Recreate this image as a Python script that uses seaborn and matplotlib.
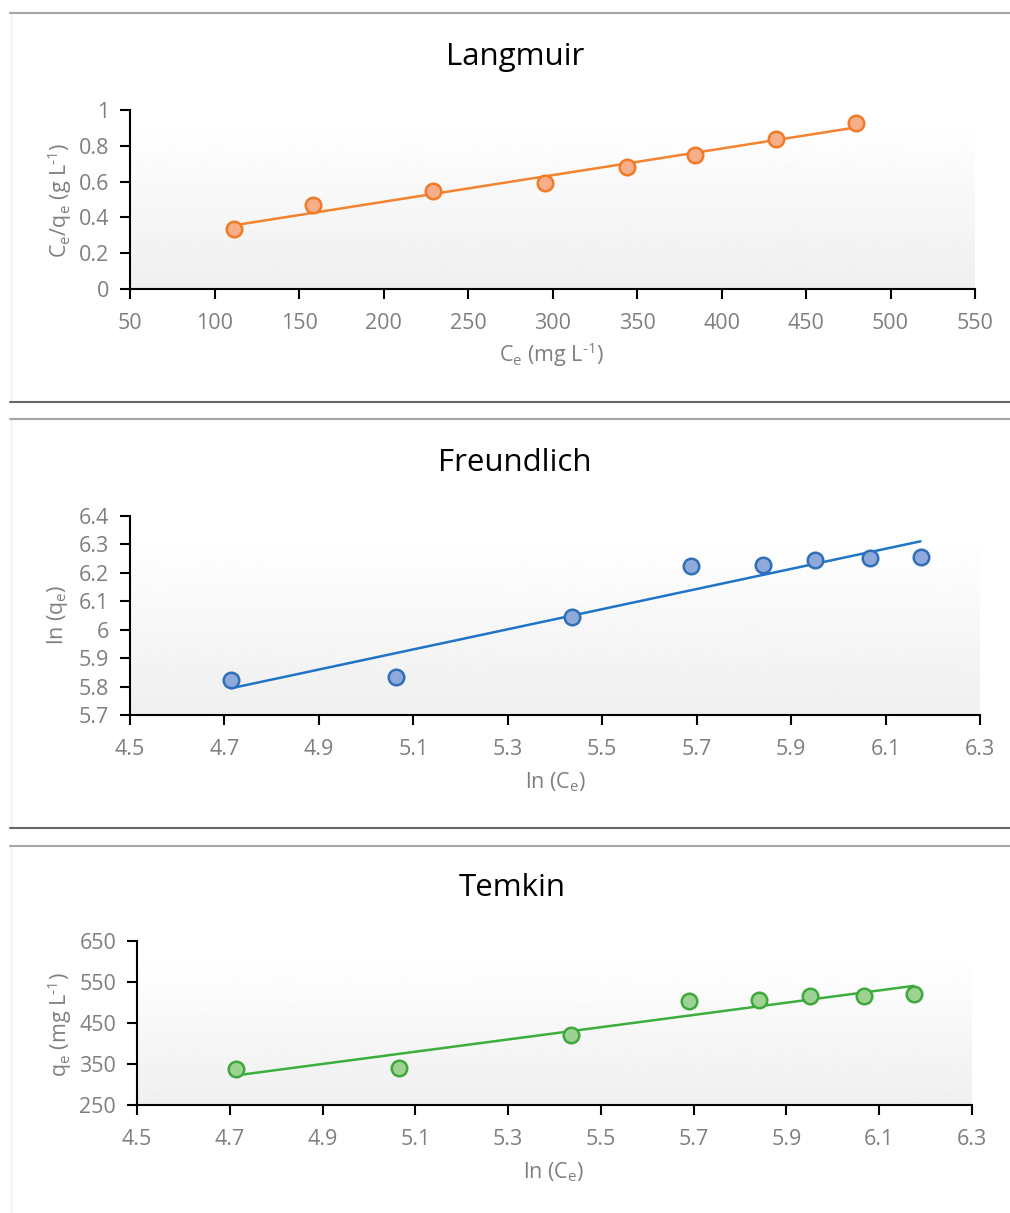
import numpy as np
import pandas as pd
import matplotlib
matplotlib.use("Agg")
import matplotlib.pyplot as plt
from matplotlib.lines import Line2D
import seaborn as sns

sns.set_theme(style="white")
plt.rcParams["font.family"] = ["Open Sans", "DejaVu Sans"]

# Isotherm data (equilibrium concentration and uptake)
ce = [111.5, 158.3, 229.3, 295.6, 344.1, 384.3, 432.2, 479.6]
ce_over_qe = [0.335, 0.469, 0.547, 0.592, 0.682, 0.749, 0.838, 0.927]
ln_ce = [4.714, 5.064, 5.435, 5.689, 5.841, 5.951, 6.068, 6.174]
ln_qe = [5.823, 5.834, 6.045, 6.225, 6.228, 6.246, 6.253, 6.256]
qe = [338, 340, 420, 503, 506, 515, 516, 520]

lang_xticks = [50, 100, 150, 200, 250, 300, 350, 400, 450, 500, 550]
lang_yticks = [0, 0.2, 0.4, 0.6, 0.8, 1]
freu_xticks = [4.5, 4.7, 4.9, 5.1, 5.3, 5.5, 5.7, 5.9, 6.1, 6.3]
freu_yticks = [5.7, 5.8, 5.9, 6.0, 6.1, 6.2, 6.3, 6.4]
temk_xticks = [4.5, 4.7, 4.9, 5.1, 5.3, 5.5, 5.7, 5.9, 6.1, 6.3]
temk_yticks = [250, 350, 450, 550, 650]

W, H = 1010, 1213
fig = plt.figure(figsize=(W / 100, H / 100), dpi=100)

TICK_COLOR = "#7f7f7f"
TICK_SIZE = 15.5


def px_axes(left, right, top, bottom):
    return fig.add_axes([left / W, 1 - bottom / H, (right - left) / W, (bottom - top) / H])


def style_axes(ax, xticks, yticks, fmt, grad_top=0.93):
    # soft vertical gradient inside the plot area
    grad = np.linspace(0.94, 1.0, 256).reshape(-1, 1)
    ax.imshow(grad, cmap="gray", vmin=0, vmax=1, aspect="auto",
              extent=[0, 1, 0, grad_top], transform=ax.transAxes,
              origin="lower", zorder=0)
    ax.set_xlim(xticks[0], xticks[-1])
    ax.set_ylim(yticks[0], yticks[-1])
    ax.set_xticks(xticks)
    ax.set_yticks(yticks)
    ax.set_xticklabels([fmt(v) for v in xticks])
    ax.set_yticklabels([fmt(v) for v in yticks])
    for s in ["top", "right"]:
        ax.spines[s].set_visible(False)
    for s in ["left", "bottom"]:
        ax.spines[s].set_color("black")
        ax.spines[s].set_linewidth(1.5)
    ax.tick_params(axis="both", which="both", direction="out", length=7, width=1.5,
                   color="black", labelcolor=TICK_COLOR, labelsize=TICK_SIZE,
                   bottom=True, left=True)
    ax.tick_params(axis="y", pad=8)
    ax.tick_params(axis="x", pad=10)
    ax.set_xlabel("")
    ax.set_ylabel("")
    ax.patch.set_alpha(0)


def gfmt(v):
    return f"{v:g}"


def draw_panel(ax, x, y, line_color, edge_color, face_color):
    df = pd.DataFrame({"x": x, "y": y})
    sns.regplot(data=df, x="x", y="y", ax=ax, scatter=False, ci=None, truncate=True,
                line_kws={"color": line_color, "lw": 1.8, "zorder": 2})
    sns.scatterplot(data=df, x="x", y="y", ax=ax, s=125, color=face_color,
                    edgecolor=edge_color, linewidth=1.8, zorder=3, legend=False)


# Langmuir
ax1 = px_axes(130, 975, 110, 289)
draw_panel(ax1, ce, ce_over_qe, "#F4822E", "#F07A26", "#F8AE88")
style_axes(ax1, lang_xticks, lang_yticks, gfmt, grad_top=0.95)

# Freundlich
ax2 = px_axes(130, 980, 516, 715)
draw_panel(ax2, ln_ce, ln_qe, "#1F74C6", "#2E6FB8", "#8FA9DA")
style_axes(ax2, freu_xticks, freu_yticks, gfmt, grad_top=0.91)

# Temkin
ax3 = px_axes(137, 972, 941, 1105)
draw_panel(ax3, ln_ce, qe, "#3BAE3B", "#3DA93D", "#9DD293")
style_axes(ax3, temk_xticks, temk_yticks, gfmt, grad_top=0.91)

# titles and axis titles
title_kw = dict(ha="center", va="center", fontsize=22.5, color="black")
fig.text(515 / W, 1 - 57 / H, "Langmuir", **title_kw)
fig.text(515 / W, 1 - 463 / H, "Freundlich", **title_kw)
fig.text(512 / W, 1 - 888 / H, "Temkin", **title_kw)

HY = "\u2010"
lab_kw = dict(ha="center", va="center", fontsize=TICK_SIZE, color=TICK_COLOR)
fig.text(552 / W, 1 - 355 / H, r"C$_\mathregular{e}$ (mg L$^\mathregular{" + HY + "1}$)", **lab_kw)
fig.text(555 / W, 1 - 782 / H, r"ln (C$_\mathregular{e}$)", **lab_kw)
fig.text(553 / W, 1 - 1172 / H, r"ln (C$_\mathregular{e}$)", **lab_kw)

fig.text(60 / W, 1 - 200 / H,
         r"C$_\mathregular{e}$/q$_\mathregular{e}$ (g L$^\mathregular{" + HY + "1}$)",
         rotation=90, **lab_kw)
fig.text(58 / W, 1 - 615 / H, r"ln (q$_\mathregular{e}$)", rotation=90, **lab_kw)
fig.text(60 / W, 1 - 1025 / H, r"q$_\mathregular{e}$ (mg L$^\mathregular{" + HY + "1}$)",
         rotation=90, **lab_kw)


# panel frame lines
def hline(y, color, lw=1.5):
    fig.add_artist(Line2D([10 / W, 1], [1 - y / H, 1 - y / H], color=color, lw=lw,
                          transform=fig.transFigure))


def vline(y0, y1, color="#eeeeee"):
    fig.add_artist(Line2D([10.5 / W, 10.5 / W], [1 - y0 / H, 1 - y1 / H], color=color,
                          lw=1, transform=fig.transFigure))


vline(12, 402)
vline(419, 828)
vline(845, 1213)
hline(12.5, "#a6a6a6")
hline(402, "#666666")
hline(419.5, "#a6a6a6")
hline(828, "#666666")
hline(845.5, "#a6a6a6")

fig.savefig("out.png", dpi=100)
